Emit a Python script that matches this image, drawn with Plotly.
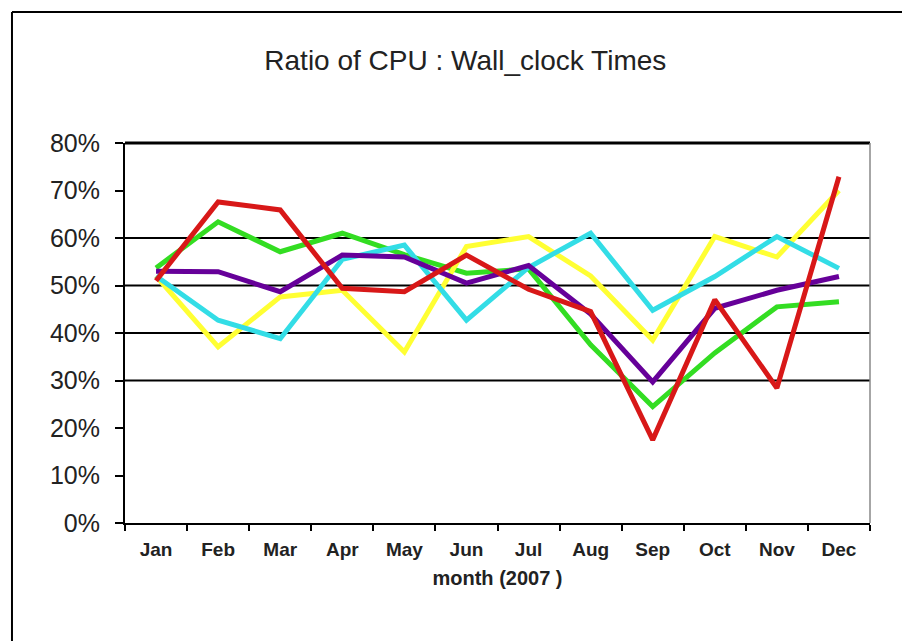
import plotly.graph_objects as go

months = ["Jan", "Feb", "Mar", "Apr", "May", "Jun", "Jul", "Aug", "Sep", "Oct", "Nov", "Dec"]
green = [53.7, 63.4, 57.1, 61.0, 56.5, 52.6, 53.5, 37.5, 24.5, 35.8, 45.5, 46.6]
yellow = [52.0, 37.1, 47.6, 49.0, 36.0, 58.2, 60.3, 52.0, 38.5, 60.3, 56.0, 70.0]
cyan = [52.0, 42.7, 38.8, 55.5, 58.5, 42.7, 53.8, 61.0, 44.8, 51.9, 60.3, 53.6]
purple = [53.0, 52.9, 48.7, 56.4, 56.0, 50.5, 54.2, 44.0, 29.7, 45.2, 49.0, 51.9]
red = [51.0, 67.6, 65.9, 49.4, 48.7, 56.4, 49.2, 44.5, 17.5, 47.0, 28.4, 72.9]

series = [
    (green, "#33dd22"),
    (yellow, "#ffff33"),
    (cyan, "#33dde6"),
    (purple, "#660099"),
    (red, "#d81818"),
]

y_ticks = [0, 10, 20, 30, 40, 50, 60, 70, 80]
y_ticktext = [f"{v}%" for v in y_ticks]
grid_vals = [30, 40, 50, 60]

fig = go.Figure()
for vals, col in series:
    fig.add_trace(go.Scatter(x=months, y=vals, mode="lines",
                             line=dict(color=col, width=5), showlegend=False))

font_family = "Liberation Sans, Arial"

shapes = []
for g in grid_vals:
    shapes.append(dict(type="line", xref="paper", yref="y", x0=0, x1=1, y0=g, y1=g,
                       line=dict(color="black", width=2), layer="below"))
# top border of plot area
shapes.append(dict(type="line", xref="paper", yref="paper", x0=0, x1=1, y0=1, y1=1,
                   line=dict(color="black", width=3)))
# right border of plot area
shapes.append(dict(type="line", xref="paper", yref="paper", x0=1, x1=1, y0=0, y1=1,
                   line=dict(color="#888888", width=1.5)))
# outer image border (left and top)
shapes.append(dict(type="line", xref="paper", yref="paper", x0=-0.1517, x1=-0.1517,
                   y0=-0.35, y1=1.345, line=dict(color="black", width=2)))
shapes.append(dict(type="line", xref="paper", yref="paper", x0=-0.1517, x1=1.1,
                   y0=1.345, y1=1.345, line=dict(color="black", width=2)))

fig.update_layout(
    width=902, height=633,
    margin=dict(l=117, r=40, t=135, b=118),
    paper_bgcolor="white", plot_bgcolor="white",
    title=dict(text="Ratio of CPU : Wall_clock Times", x=0.507, xanchor="center",
               y=0.918, yanchor="middle",
               font=dict(family=font_family, size=28, color="#222222")),
    shapes=shapes,
    font=dict(family=font_family, color="#222222"),
)
fig.update_xaxes(
    type="category", tickson="boundaries", ticks="outside", ticklen=6,
    tickcolor="black", tickwidth=1.5, showline=True, linecolor="black", linewidth=2,
    showgrid=False, tickfont=dict(size=19, family=font_family, weight="bold"),
    ticklabelstandoff=8,
    title=dict(text="month (2007 )", font=dict(size=20, family=font_family, weight="bold"),
               standoff=12),
    range=[-0.5, 11.5],
)
fig.update_yaxes(
    range=[0, 80], tickvals=y_ticks, ticktext=y_ticktext, ticks="outside", ticklen=8,
    tickcolor="black", tickwidth=1.5, showline=True, linecolor="black", linewidth=2,
    showgrid=False, zeroline=False, tickfont=dict(size=25, family=font_family),
    ticklabelstandoff=10,
)

fig.write_html("out.html")
